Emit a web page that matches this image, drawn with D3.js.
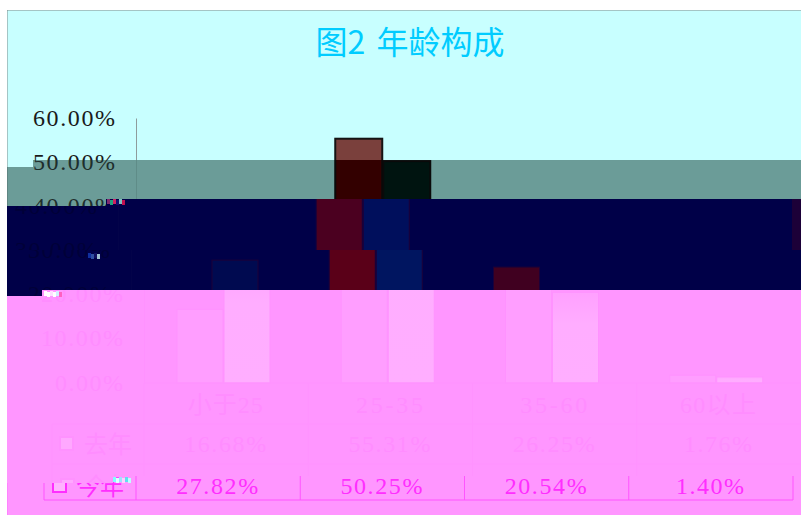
<!DOCTYPE html>
<html><head><meta charset="utf-8">
<script src="https://cdn.jsdelivr.net/npm/d3@7/dist/d3.min.js"></script>
<style>html,body{margin:0;background:#fff}svg{display:block}</style>
</head><body><svg id="c" width="801" height="515"></svg>
<script>
const chartTitle = "图2 年龄构成";
const categories = ["小于25","25-35","35-60","60以上"];
const categoryWidths = [75,67,67,76];
const seriesNames = ["去年","今年"];
const lastYear = [16.68,55.31,26.25,1.76];
const thisYear = [27.82,50.25,20.54,1.40];
const yTicks = [0,10,20,30,40,50,60];
const values = [lastYear,thisYear];

const W=801,H=515,LEFT=7;
const y=d3.scaleLinear().domain([0,60]).range([383,118]);
const x0=d3.scaleBand().domain(categories).range([144,801]);
const x1=d3.scaleBand().domain(seriesNames).range([33,127]);
const rowY={cat:405,s0:444,s1:486};
const pct=v=>v.toFixed(2)+"%";
const serif="'Liberation Serif','Noto Sans CJK SC',serif", cjk="'Noto Sans CJK SC',sans-serif";

// Horizontal slices of the picture: each has its own palette and shift.
const bands=[
 {y0:10, y1:160,dx:-8, bx:2,bw:1,nx:0,  nh:0,bg:"#C8FFFF",b:["#7A403C","#0F2A26"],bs:"#141414",sw:2,text:"#1a1a1a",line:"#8E9C9C",frame:"#808C8C",title:"#00CCFF",box:"#C8FFFF"},
 {y0:160,y1:199,dx:-8, bx:2,bw:1,nx:33, nh:7,bg:"#6B9C98",b:["#330000","#001410"],bs:"#0a0a0a",sw:2,text:"#1e2e2c",line:"#5f8c88",frame:"#556f6c",title:"none",box:"#6B9C98"},
 {y0:199,y1:250,dx:-26,bx:1,bw:0,nx:106,nh:7,bg:"#000048",b:["#4B0020","#000F5C"],bs:"#1c0038",sw:1,text:"#000038",line:"#030349",frame:"#000048",title:"none",box:"#000048"},
 {y0:250,y1:290,dx:-13,bx:1,bw:0,nx:0,  nh:0,bg:"#000048",b:["#5A0018","#001560"],short:["#400020","#000A50"],bs:"#1c0038",sw:1,text:"#000038",line:"#030349",frame:"#000048",title:"none",box:"#000048"},
 {y0:290,y1:476,dx:0,  bx:0,bw:0,nx:42, nh:6,bg:"#FF96FF",b:["#FF9EFF","url(#pinkBar)"],bs:"#FF92FF",sw:1,text:"#FF8DFF",line:"#FF92FF",frame:"#FF96FF",title:"none",box:"#FFA8FF"},
 {y0:476,y1:515,dx:-8, bx:0,bw:0,nx:113,nh:7,bg:"#FF96FF",b:["#FF9EFF","url(#pinkBar)"],bs:"#FF92FF",sw:1,text:"#FF2EFF",line:"#FF55FF",frame:"#FF70FF",title:"none",box:"#FFB4FF",boxStroke:"#FF2EFF"}
];

const svg=d3.select("#c");
const defs=svg.append("defs");
const grad=defs.append("linearGradient").attr("id","pinkBar").attr("x1",0).attr("x2",0).attr("y1",0).attr("y2",1);
grad.append("stop").attr("offset",0).attr("stop-color","#FFA0FF");
grad.append("stop").attr("offset",0.35).attr("stop-color","#FFADFF");
grad.append("stop").attr("offset",1).attr("stop-color","#FFAEFF");
bands.forEach((b,i)=>{
  const n=bands[i+1];
  const bottom = n ? `L${W},${b.y1}L${n.nx||LEFT},${b.y1}L${n.nx||LEFT},${b.y1+n.nh}L${LEFT},${b.y1+n.nh}` : `L${W},${b.y1}L${LEFT},${b.y1}`;
  defs.append("clipPath").attr("id","band"+i).append("path")
    .attr("d",`M${LEFT},${b.y0+b.nh}L${b.nx||LEFT},${b.y0+b.nh}L${b.nx||LEFT},${b.y0}L${W},${b.y0}${bottom}Z`);
});

function spaced(sel,w){
  sel.attr("font-family",serif).attr("font-size",24).attr("textLength",w).attr("lengthAdjust","spacing");
}

bands.forEach((b,i)=>{
  const n=bands[i+1];
  const reach=b.y1+(n?n.nh:0);
  const inBand=yc=>yc+12>=b.y0 && yc-12<=reach;   // only draw the texts this slice can show

  const clip=svg.append("g").attr("clip-path",`url(#band${i})`);
  clip.append("rect").attr("x",0).attr("y",0).attr("width",W).attr("height",H).attr("fill",b.bg);
  const g=clip.append("g").attr("transform",`translate(${b.dx},0)`);

  g.append("rect").attr("x",15).attr("y",10).attr("width",W+60).attr("height",H+30)
    .attr("fill","none").attr("stroke",b.frame);

  if(b.title!=="none"){
    g.append("text").attr("x",418).attr("y",54).attr("text-anchor","middle").attr("word-spacing",4)
      .attr("font-family",cjk).attr("font-size",32).attr("fill",b.title).text(chartTitle);
  }

  // value axis
  const ax=g.append("g").attr("transform","translate(144,0)")
    .call(d3.axisLeft(y).tickValues(yTicks.filter(v=>inBand(y(v)))).tickSize(0).tickPadding(21).tickFormat(v=>pct(v)));
  ax.select(".domain").attr("stroke",b.line);
  ax.selectAll("text").attr("fill",b.text).attr("dy",8).attr("y",-1)
    .each(function(v){ d3.select(this).call(spaced,v>=10?82:68); });

  // bars
  seriesNames.forEach((s,si)=>{
    g.selectAll(null).data(categories).join("rect")
      .attr("x",c=>x0(c)+x1(s)+b.bx+si*b.bw).attr("width",x1.bandwidth()-1+b.bw)
      .attr("y",(c,k)=>y(values[si][k])).attr("height",(c,k)=>y(0)-y(values[si][k]))
      .attr("fill",(c,k)=>b.short&&values[si][k]<30?b.short[si]:b.b[si])
      .attr("stroke",b.bs).attr("stroke-width",b.sw);
  });

  // data table
  const right=x0.range()[1], tl=52;
  const rules=[[144,383],[tl,424],[tl,464],[tl,500]];
  g.selectAll(null).data(rules).join("line")
    .attr("x1",d=>d[0]).attr("x2",right).attr("y1",d=>d[1]).attr("y2",d=>d[1])
    .attr("stroke",b.line);
  g.selectAll(null).data(categories).join("line")
    .attr("x1",c=>x0(c)).attr("x2",c=>x0(c)).attr("y1",383).attr("y2",500).attr("stroke",b.line);
  g.append("line").attr("x1",right).attr("x2",right).attr("y1",383).attr("y2",500).attr("stroke",b.line);
  g.append("line").attr("x1",tl).attr("x2",tl).attr("y1",424).attr("y2",500).attr("stroke",b.line);

  if(inBand(rowY.cat)){
    g.selectAll(null).data(categories).join("text")
      .attr("x",c=>x0(c)+x0.bandwidth()/2-1).attr("y",rowY.cat+8).attr("text-anchor","middle")
      .attr("fill",b.text).attr("font-family",serif).attr("font-size",24)
      .attr("textLength",(c,k)=>categoryWidths[k]).attr("lengthAdjust","spacing").text(c=>c);
  }

  seriesNames.forEach((s,si)=>{
    const ry=si?rowY.s1:rowY.s0;
    if(!inBand(ry)) return;
    g.append("rect").attr("x",si?61:60).attr("y",ry-7).attr("width",13).attr("height",13)
      .attr("fill",b.box).attr("stroke",b.boxStroke||b.line).attr("stroke-width",2);
    g.append("text").attr("x",84).attr("y",ry+9).attr("fill",b.text)
      .attr("font-family",cjk).attr("font-size",24).text(s);
    g.selectAll(null).data(values[si]).join("text")
      .attr("x",(d,k)=>x0(categories[k])+x0.bandwidth()/2-1).attr("y",ry+8)
      .attr("text-anchor","middle").attr("fill",b.text)
      .text(pct)
      .each(function(d){ d3.select(this).call(spaced,d>=10?82:68); });
  });
});

// stray decoding artefacts seen in the reference
const glitches=[
 {at:[107,199],c:["#7f2a6f","#20a080","#d02060","#101070","#80c0c0","#c01050"]},
 {at:[88,253],c:["#1030a0","#304fa0","#101060","#a0c0d0"]},
 {at:[44,291],c:["#ffffff","#ffffff","#ffe0ff","#ffffff","#d0f0ff","#ff60c0"]},
 {at:[113,477],c:["#80ffff","#e0ffff","#a0e0ff","#ffd0ff","#60e0f0","#c0ffff"]}
];
glitches.forEach(q=>{
  svg.append("g").attr("transform",`translate(${q.at[0]},${q.at[1]})`)
    .selectAll("rect").data(q.c).join("rect")
    .attr("x",(d,k)=>k*3).attr("y",(d,k)=>k%2).attr("width",3).attr("height",5).attr("fill",d=>d);
});
const s2=svg.append("g").attr("clip-path","url(#band2)");
s2.append("rect").attr("x",792).attr("y",199).attr("width",9).attr("height",51).attr("fill","#1c0038");
</script></body></html>
